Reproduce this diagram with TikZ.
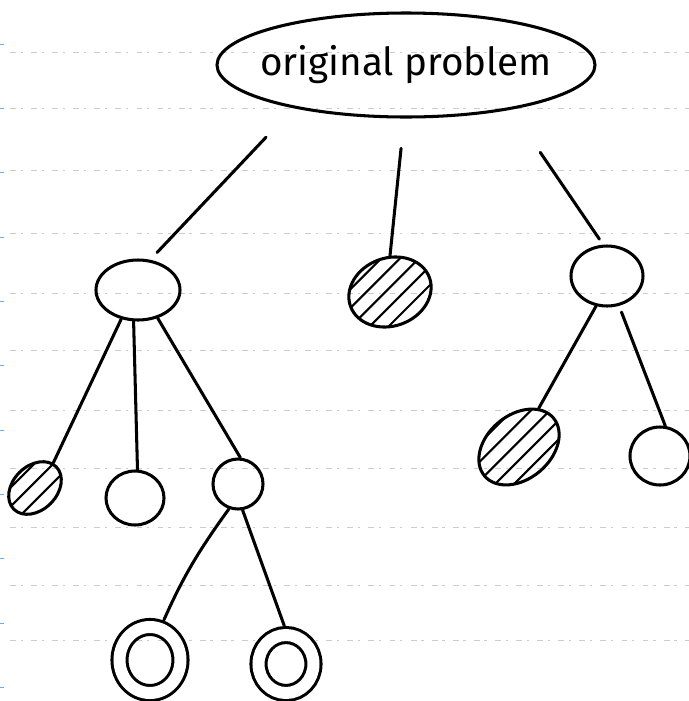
\documentclass[tikz,border=0pt]{standalone}
\usepackage{fontspec}
\newfontfamily\handfont{Fira Sans}
\usetikzlibrary{shapes.geometric}
\definecolor{rulegray}{gray}{0.8}
\definecolor{marginblue}{RGB}{110,170,235}

\begin{document}
\begin{tikzpicture}[
    blob/.style={ellipse, draw, line width=2.6pt, inner sep=0pt},
    hatchline/.style={line width=1.8pt, line cap=round},
    hatched/.style={blob, path picture={
        \foreach \k in {-1.5,-1.1,...,1.5}
            \draw[hatchline] ([shift={(#1+90:\k)}]path picture bounding box.center) ++(#1:-1.6) -- ++(#1:3.2);
    }},
    ring/.style={blob, double, double distance=0.36cm},
    edge/.style={line width=2.6pt, line cap=round},
    ruled/.style={rulegray, line width=0.7pt, dash pattern=on 5pt off 4pt on 2pt off 7pt},
    tick/.style={marginblue, line width=0.8pt}
]
\useasboundingbox (0,0) rectangle (20.67,-21.03);

% Paper lines
\foreach \y in {1.56,3.24,5.1,6.99,8.79,10.5,12.3,14.04,15.81,17.55,19.2}
    \draw[ruled] (0.3,-\y) -- (20.67,-\y);
\foreach \y in {1.32,3.24,5.16,7.11,9.03,10.95,12.9,14.82,16.74,18.69,20.61}
    \draw[tick] (0,-\y) -- (0.12,-\y);

% Root
\node[blob, minimum width=11.34cm, minimum height=3.12cm,
      label={[font=\handfont\fontsize{33}{38}\selectfont]center:original problem}] (root) at (12.18,-1.95) {};

% Level 1
\node[blob, minimum width=2.52cm, minimum height=1.8cm] (left) at (4.14,-8.7) {};
\node[hatched=25, minimum width=2.52cm, minimum height=2.04cm, rotate=20] (mid) at (11.7,-8.76) {};
\node[blob, minimum width=2.16cm, minimum height=1.8cm] (right) at (18.21,-8.28) {};

% Level 2
\node[hatched=0, minimum width=1.8cm, minimum height=1.32cm, rotate=45] (leftA) at (1.05,-14.64) {};
\node[blob, minimum width=1.74cm, minimum height=1.62cm] (leftB) at (4.05,-14.94) {};
\node[blob, minimum width=1.5cm, minimum height=1.5cm] (leftC) at (7.14,-14.52) {};
\node[hatched=5, minimum width=2.7cm, minimum height=1.92cm, rotate=40] (rightA) at (15.57,-13.41) {};
\node[blob, minimum width=1.8cm, minimum height=1.74cm] (rightB) at (19.8,-13.68) {};

% Level 3
\node[ring, minimum width=1.83cm, minimum height=1.98cm] (leafA) at (4.5,-19.8) {};
\node[ring, minimum width=1.65cm, minimum height=1.74cm] (leafB) at (8.58,-19.92) {};

% Edges
\draw[edge, shorten <=1.2cm, shorten >=0.3cm] (root.201) -- (left.68);
\draw[edge, shorten <=0.9cm] (root.268) -- (mid.70);
\draw[edge, shorten <=1.55cm, shorten >=0.2cm] (root.337) -- (right.97);
\draw[edge] (left.240) -- (leftA.9);
\draw[edge] (left.262) -- (leftB.85);
\draw[edge] (left.305) -- (leftC.85);
\draw[edge, shorten >=0.25cm] (leftC.250) to[bend right=6] (leafA.72);
\draw[edge, shorten >=0.25cm] (leftC.280) -- (leafB.88);
\draw[edge] (right.250) -- (rightA.23);
\draw[edge, shorten <=0.2cm] (right.292) -- (rightB.80);

\end{tikzpicture}
\end{document}
